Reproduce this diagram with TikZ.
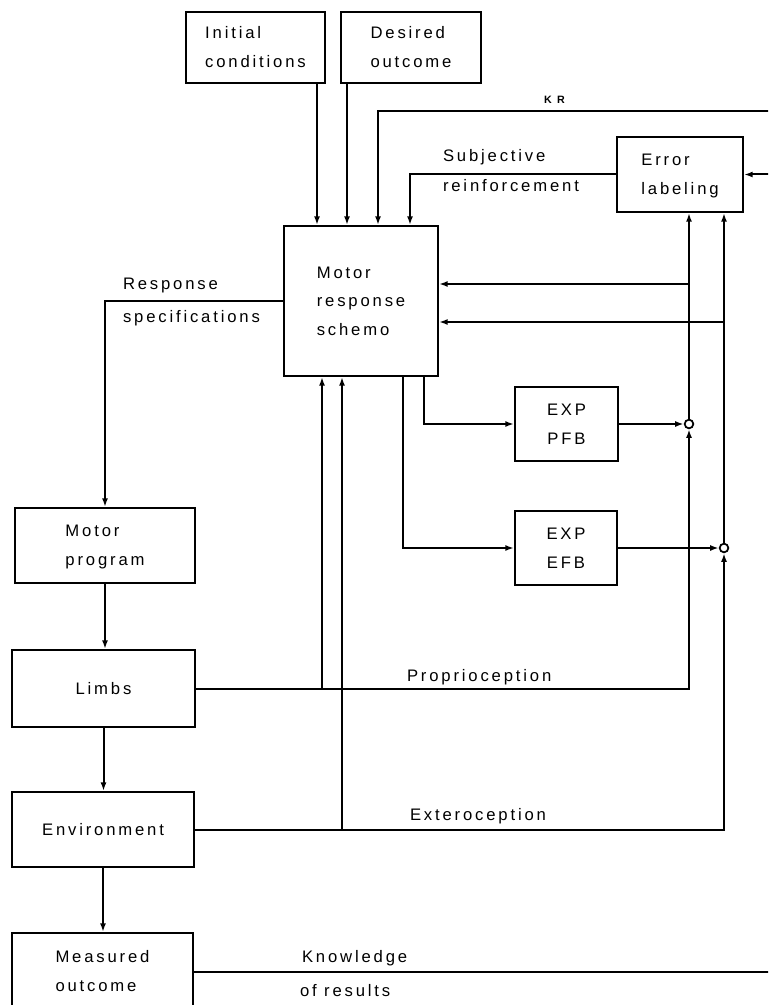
\documentclass[tikz,border=0pt]{standalone}
\usepackage{fontspec}
\setmainfont{Liberation Sans}[LetterSpace=17]
\usetikzlibrary{arrows.meta}
\newcommand{\boxtextl}[1]{\begin{tabular}{@{}l@{}}#1\end{tabular}}
\newcommand{\boxtextc}[1]{\begin{tabular}{@{}c@{}}#1\end{tabular}}
% \bx{name}{x1}{y1}{x2}{y2}{text}
\newcommand{\bx}[6]{\node[box,minimum width={(#4-#2)*0.75pt},minimum height={(#5-#3)*0.75pt}] (#1) at ({(#2+#4)/2},{(#3+#5)/2}) {#6};}
\begin{document}
\begin{tikzpicture}[x=0.75pt,y=-0.75pt,line width=1.5pt,
  txt/.style={font=\fontsize{12.5}{21.5}\selectfont},
  box/.style={draw,line width=1.5pt,inner sep=0pt,txt},
  lbl/.style={inner sep=0pt,anchor=base west,txt},
  arr/.style={-{Latex[length=6.5pt,width=4.5pt]}},
  cmp/.style={circle,draw,fill=white,inner sep=0pt,minimum size=6.5pt,line width=1.3pt}]
\useasboundingbox (0,0) rectangle (768,1005);
\clip (0,0) rectangle (768,1005);
% boxes
\bx{init}{186}{12}{325}{83}{\boxtextl{Initial\\conditions}}
\bx{des}{341}{12}{481}{83}{\boxtextl{Desired\\outcome}}
\bx{schema}{284}{226}{438}{376}{\boxtextl{Motor\\response\\schemo}}
\bx{err}{617}{137}{743}{212}{\boxtextl{Error\\labeling}}
\bx{pfb}{515}{387}{618}{461}{\boxtextc{EXP\\PFB}}
\bx{efb}{515}{511}{617}{585}{\boxtextc{EXP\\EFB}}
\bx{mp}{15}{508}{195}{583}{\boxtextl{Motor\\program}}
\bx{limbs}{12}{650}{195}{727}{\boxtextc{Limbs}}
\bx{env}{12}{792}{194}{867}{\boxtextc{Environment}}
\bx{meas}{12}{933}{193}{1010}{\boxtextl{Measured\\outcome}}
% comparators
\node[cmp] (c1) at (689,424) {};
\node[cmp] (c2) at (724,548) {};
% helper columns / rows
\coordinate (cI) at (317,0);
\coordinate (cD) at (347,0);
\coordinate (cK) at (378,0);
\coordinate (cS) at (410,0);
\coordinate (cP) at (322,0);
\coordinate (cE) at (342,0);
\coordinate (cb1) at (424,0);
\coordinate (cb2) at (403,0);
\coordinate (v1) at (689,0);
\coordinate (v2) at (724,0);
\coordinate (edge) at (772,0);
\coordinate (rRS) at (0,301);
\coordinate (rF1) at (0,284);
\coordinate (rF2) at (0,322);
\coordinate (kr) at (772,111);
% connectors
\draw[arr] (init.south -| cI) -- (schema.north -| cI);
\draw[arr] (des.south -| cD) -- (schema.north -| cD);
\draw[arr] (kr) -- (kr -| cK) -- (schema.north -| cK);
\draw[arr] (err.west) -- (err.west -| cS) -- (schema.north -| cS);
\draw[arr] (err.east -| edge) -- (err.east);
\draw[arr] (schema.west |- rRS) -| (mp.north);
\draw[arr] (mp.south) -- (mp.south |- limbs.north);
\draw[arr] (limbs.south) -- (limbs.south |- env.north);
\draw[arr] (env.south) -- (env.south |- meas.north);
\draw[arr] (limbs.east) -| (c1.south);
\draw[arr] (limbs.east -| cP) -- (schema.south -| cP);
\draw[arr] (env.east) -| (c2.south);
\draw[arr] (env.east -| cE) -- (schema.south -| cE);
\draw[arr] (c1.north) -- (c1.north |- err.south);
\draw[arr] (c2.north) -- (c2.north |- err.south);
\draw[arr] (v1 |- rF1) -- (schema.east |- rF1);
\draw[arr] (v2 |- rF2) -- (schema.east |- rF2);
\draw[arr] (schema.south -| cb1) |- (pfb.west);
\draw[arr] (schema.south -| cb2) |- (efb.west);
\draw[arr] (pfb.east) -- (c1.west);
\draw[arr] (efb.east) -- (c2.west);
\draw (meas.east) -- (meas.east -| edge);
% labels
\node[lbl] (lrs1) at (122,290) {Response};
\node[lbl] (lrs2) at (122,322) {specifications};
\node[lbl] (lsr1) at (442,162) {Subjective};
\node[lbl] (lsr2) at (442,192) {reinforcement};
\node[inner sep=0pt,anchor=base west,font=\fontsize{8}{9}\selectfont\bfseries] (lkr) at (543,104) {K\hspace{4pt}R};
\node[lbl] (lpro) at (406,681) {Proprioception};
\node[lbl] (lext) at (409,820) {Exteroception};
\node[lbl] (lkor1) at (301,962) {Knowledge};
\node[lbl] (lkor2) at (299,996) {of results};
\end{tikzpicture}
\end{document}
